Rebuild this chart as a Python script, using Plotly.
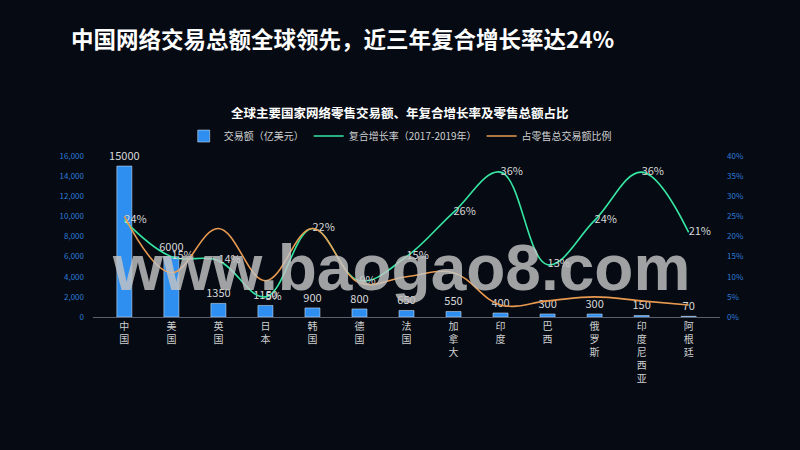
import plotly.graph_objects as go

categories = ["中国", "美国", "英国", "日本", "韩国", "德国", "法国", "加拿大", "印度", "巴西", "俄罗斯", "印度尼西亚", "阿根廷"]
trade_volume = [15000, 6000, 1350, 1150, 900, 800, 650, 550, 400, 300, 300, 150, 70]
cagr = [24, 15, 14, 5, 22, 9, 15, 26, 36, 13, 24, 36, 21]
retail_share = [25, 11, 22, 9, 22, 8.5, 10, 11, 3, 4, 5, 4, 3]

left_ticks = [0, 2000, 4000, 6000, 8000, 10000, 12000, 14000, 16000]
right_ticks = [0, 5, 10, 15, 20, 25, 30, 35, 40]

FONT = "Noto Sans CJK SC"
BG = "#050a13"
tick_text_x = ["<br>".join(list(c)) for c in categories]

fig = go.Figure()
fig.add_trace(go.Bar(
    x=categories, y=trade_volume, name="交易额（亿美元）",
    marker=dict(color="#2e8ff0"),
    text=[str(v) for v in trade_volume], textposition="outside",
    constraintext="none",
    textfont=dict(color="#d8d8d8", size=11, family=FONT),
    cliponaxis=False,
))
fig.add_trace(go.Scatter(
    x=categories, y=cagr, name="复合增长率（2017-2019年）", yaxis="y2",
    mode="lines+text", line=dict(color="#36e6a2", width=1.6, shape="spline", smoothing=1.1),
    text=[f"{v}%" for v in cagr], textposition="middle right",
    textfont=dict(color="#d8d8d8", size=11, family=FONT),
    cliponaxis=False,
))
fig.add_trace(go.Scatter(
    x=categories, y=retail_share, name="占零售总交易额比例", yaxis="y2",
    mode="lines", line=dict(color="#e99a50", width=1.6, shape="spline", smoothing=1.1),
))

fig.update_layout(
    width=800, height=450,
    paper_bgcolor=BG, plot_bgcolor=BG,
    font=dict(family=FONT, color="#d8d8d8"),
    margin=dict(l=93, r=80, t=156, b=133, autoexpand=False),
    bargap=0.68,
    showlegend=True,
    legend=dict(orientation="h", x=0.49, xanchor="center", y=1.124, yanchor="middle",
                font=dict(size=10, color="#cfcfcf", family=FONT), bgcolor="rgba(0,0,0,0)",
                itemwidth=30),
    xaxis=dict(
        tickmode="array", tickvals=categories, ticktext=tick_text_x,
        tickfont=dict(size=10, color="#cfcfcf", family=FONT),
        showline=True, linecolor="#5a6070", linewidth=1,
        showgrid=False, ticks="", zeroline=False, automargin=False,
    ),
    yaxis=dict(
        range=[0, 16000], tickvals=left_ticks, tickformat=",",
        tickfont=dict(size=8, color="#2e7bd6", family=FONT),
        ticklabelstandoff=8, automargin=False,
        showgrid=False, zeroline=False, showline=False,
    ),
    yaxis2=dict(
        range=[0, 40], tickvals=right_ticks, ticktext=[f"{v}%" for v in right_ticks],
        overlaying="y", side="right",
        tickfont=dict(size=8, color="#2e7bd6", family=FONT),
        ticklabelstandoff=6, automargin=False,
        showgrid=False, zeroline=False, showline=False,
    ),
    annotations=[
        dict(text="<b>中国网络交易总额全球领先，近三年复合增长率达24%</b>",
             xref="paper", yref="paper", x=-0.0335, y=1.733, xanchor="left", yanchor="middle",
             xshift=-3, showarrow=False,
             font=dict(size=22.5, color="#ffffff", family=FONT)),
        dict(text="<b>全球主要国家网络零售交易额、年复合增长率及零售总额占比</b>",
             xref="paper", yref="paper", x=0.49, y=1.273, xanchor="center", yanchor="middle",
             showarrow=False, font=dict(size=12.5, color="#ffffff", family=FONT)),
        dict(text="<b>www.baogao8.com</b>",
             xref="paper", yref="paper", x=0.492, y=0.304, xanchor="center", yanchor="middle",
             showarrow=False, font=dict(size=64, color="rgba(195,195,195,0.82)", family="Liberation Sans")),
    ],
)

fig.write_html(
    "out.html",
    config={"displayModeBar": False},
    post_script="document.body.style.margin='0';document.body.style.background='%s';" % BG,
)
